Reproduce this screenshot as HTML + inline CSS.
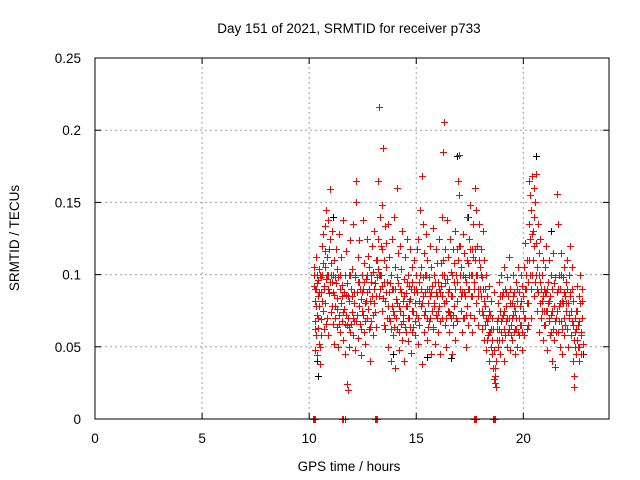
<!DOCTYPE html>
<html><head><meta charset="utf-8"><style>
body{margin:0;background:#fff}
svg{display:block;font-family:"Liberation Sans",sans-serif}
</style></head><body>
<svg id="chart" width="640" height="480" viewBox="0 0 640 480" xmlns="http://www.w3.org/2000/svg">
<rect width="640" height="480" fill="#fff"/>
<text x="349" y="33" font-size="13.5" text-anchor="middle">Day 151 of 2021, SRMTID for receiver p733</text>
<text transform="translate(19,238) rotate(-90)" font-size="13.5" text-anchor="middle">SRMTID / TECUs</text>
<text x="349" y="471" font-size="13.5" text-anchor="middle">GPS time / hours</text>
<g id="grid"></g>
<g id="ticks"></g>
<g id="black"></g>
<g id="red"></g>
<rect x="95" y="58" width="514" height="361" fill="none" stroke="#000" stroke-width="1"/>
</svg>
<script>
const xTicks=[0,5,10,15,20];
const yTicks=[0,0.05,0.1,0.15,0.2,0.25];
const yTickLabels=["0","0.05","0.1","0.15","0.2","0.25"];
const blackData=[[10.4,.03],[10.35,.04],[11.1,.14],[16.9,.182],[20.6,.182],[13.9,.045],[15.5,.043],[16.6,.042],[22.8,.045],[21.3,.13],[17.4,.14],[20.1,.122]];
const redZeros=[[10.2,0],[10.24,0],[10.28,0],[11.55,0],[11.6,0],[11.65,0],[13.08,0],[13.13,0],[13.18,0],[17.7,0],[17.75,0],[17.8,0],[18.6,0],[18.65,0],[18.7,0]];
const redData=[[10.22,.092],[10.24,.105],[10.25,.068],[10.27,.082],[10.28,.048],[10.3,.09],[10.31,.112],[10.33,.058],[10.35,.1],[10.36,.072],[10.38,.044],[10.4,.096],[10.41,.063],[10.43,.085],[10.44,.052],[10.46,.104],[10.48,.078],[10.5,.038],[10.52,.1],[10.53,.069],[10.55,.088],[10.57,.058],[10.6,.12],[10.62,.1],[10.63,.075],[10.65,.128],[10.67,.09],[10.7,.062],[10.72,.105],[10.74,.134],[10.76,.08],[10.78,.097],[10.8,.145],[10.82,.07],[10.84,.112],[10.86,.1],[10.88,.138],[10.9,.058],[10.92,.087],[10.95,.125],[10.98,.159],[11.0,.074],[11.02,.108],[11.05,.095],[11.08,.13],[11.1,.066],[11.12,.088],
[11.15,.11],[11.18,.052],[11.2,.078],[11.22,.098],[11.25,.118],[11.28,.064],[11.3,.084],[11.32,.104],[11.35,.05],[11.38,.072],[11.4,.128],[11.42,.09],[11.45,.06],[11.48,.08],[11.5,.112],[11.52,.068],[11.55,.093],[11.58,.055],[11.6,.138],[11.62,.076],[11.65,.1],[11.68,.045],[11.7,.086],[11.72,.116],[11.75,.065],[11.78,.024],[11.8,.02],[11.82,.07],[11.84,.1],[11.86,.05],[11.88,.082],[11.9,.124],[11.92,.06],[11.95,.09],[11.98,.074],
[12.0,.104],[12.03,.058],[12.05,.135],[12.08,.08],[12.1,.068],[12.12,.1],[12.15,.048],[12.18,.15],[12.2,.165],[12.22,.088],[12.25,.072],[12.28,.112],[12.3,.056],[12.32,.095],[12.35,.124],[12.38,.066],[12.4,.083],[12.42,.044],[12.45,.1],[12.48,.075],[12.5,.138],[12.52,.09],[12.55,.06],[12.58,.108],[12.6,.08],[12.62,.052],[12.65,.097],[12.68,.125],[12.7,.07],[12.72,.088],[12.75,.113],[12.78,.062],[12.8,.105],[12.82,.04],[12.85,.082],[12.88,.095],[12.9,.068],[12.92,.12],[12.95,.085],[12.98,.102],[13.0,.058],[13.02,.09],[13.05,.13],[13.08,.074],[13.1,.11],[13.12,.064],[13.15,.098],
[13.2,.125],[13.22,.165],[13.25,.085],[13.28,.216],[13.3,.14],[13.32,.1],[13.35,.12],[13.38,.075],[13.4,.148],[13.42,.092],[13.45,.188],[13.48,.11],[13.5,.065],[13.52,.134],[13.55,.082],[13.58,.105],[13.6,.122],[13.62,.07],[13.65,.095],[13.68,.135],[13.7,.05],[13.72,.088],[13.75,.112],[13.78,.068],[13.8,.04],[13.82,.1],[13.85,.078],[13.88,.125],[13.9,.058],[13.92,.09],[13.95,.14],[13.98,.072],
[14.0,.105],[14.02,.035],[14.05,.083],[14.08,.16],[14.1,.062],[14.12,.098],[14.15,.115],[14.18,.048],[14.2,.078],[14.22,.12],[14.25,.09],[14.28,.066],[14.3,.104],[14.32,.055],[14.35,.13],[14.38,.082],[14.4,.072],[14.42,.097],[14.45,.04],[14.48,.112],[14.5,.087],[14.52,.06],[14.55,.125],[14.58,.078],[14.6,.1],[14.62,.054],[14.65,.092],[14.68,.07],[14.7,.118],[14.72,.083],[14.75,.046],[14.78,.105],[14.8,.075],[14.82,.095],[14.85,.064],[14.88,.088],[14.9,.11],[14.92,.058],[14.95,.08],[14.98,.1],
[15.0,.072],[15.02,.118],[15.05,.088],[15.08,.052],[15.1,.125],[15.12,.095],[15.15,.065],[15.18,.145],[15.2,.105],[15.22,.078],[15.25,.038],[15.28,.168],[15.3,.135],[15.32,.085],[15.35,.115],[15.38,.06],[15.4,.1],[15.42,.075],[15.45,.128],[15.48,.09],[15.5,.055],[15.52,.11],[15.55,.08],[15.58,.098],[15.6,.068],[15.62,.12],[15.65,.085],[15.68,.045],[15.7,.105],[15.72,.075],[15.75,.092],[15.78,.132],[15.8,.062],[15.82,.1],[15.85,.08],[15.88,.052],[15.9,.118],[15.92,.088],[15.95,.07],[15.98,.108],
[16.0,.06],[16.02,.095],[16.05,.078],[16.08,.125],[16.1,.045],[16.12,.088],[16.15,.108],[16.18,.07],[16.2,.14],[16.22,.085],[16.25,.185],[16.28,.206],[16.3,.1],[16.32,.065],[16.35,.118],[16.38,.082],[16.4,.05],[16.42,.097],[16.45,.138],[16.48,.075],[16.5,.112],[16.52,.06],[16.55,.09],[16.58,.125],[16.6,.07],[16.62,.102],[16.65,.045],[16.68,.085],[16.7,.118],[16.72,.065],[16.75,.095],[16.78,.078],[16.8,.13],[16.82,.055],[16.85,.1],[16.88,.082],[16.9,.118],[16.92,.068],[16.95,.165],[16.98,.183],
[17.0,.155],[17.02,.09],[17.05,.12],[17.08,.075],[17.1,.105],[17.12,.06],[17.15,.088],[17.18,.128],[17.2,.1],[17.22,.07],[17.25,.115],[17.28,.085],[17.3,.05],[17.32,.095],[17.35,.14],[17.38,.078],[17.4,.108],[17.42,.065],[17.45,.125],[17.48,.09],[17.5,.148],[17.52,.072],[17.55,.1],[17.58,.06],[17.6,.118],[17.62,.085],[17.65,.135],[17.68,.095],[17.7,.07],[17.72,.11],[17.75,.16],[17.78,.145],[17.8,.08],[17.82,.12],[17.85,.1],[17.88,.065],[17.9,.09],[17.92,.135],[17.95,.075],[17.98,.105],
[18.0,.118],[18.02,.085],[18.05,.062],[18.08,.098],[18.1,.13],[18.12,.072],[18.15,.11],[18.18,.055],[18.2,.09],[18.22,.078],[18.25,.048],[18.28,.1],[18.3,.068],[18.32,.085],[18.35,.058],[18.38,.04],[18.4,.075],[18.42,.092],[18.45,.06],[18.48,.05],[18.5,.082],[18.52,.045],[18.55,.07],[18.58,.035],[18.6,.062],[18.62,.088],[18.65,.028],[18.67,.025],[18.7,.03],[18.72,.022],[18.75,.055],[18.78,.068],[18.8,.08],[18.82,.05],[18.85,.095],[18.88,.062],[18.9,.075],[18.92,.045],[18.95,.1],[18.98,.068],
[19.0,.085],[19.02,.055],[19.05,.072],[19.08,.105],[19.1,.062],[19.12,.04],[19.15,.09],[19.18,.068],[19.2,.078],[19.22,.05],[19.25,.098],[19.28,.06],[19.3,.085],[19.32,.112],[19.35,.07],[19.38,.048],[19.4,.09],[19.42,.065],[19.45,.08],[19.48,.055],[19.5,.1],[19.52,.072],[19.55,.06],[19.58,.088],[19.6,.045],[19.62,.075],[19.65,.095],[19.68,.062],[19.7,.082],[19.72,.05],[19.75,.105],[19.78,.07],[19.8,.088],[19.82,.058],[19.85,.078],[19.88,.1],[19.9,.065],[19.92,.048],[19.95,.092],[19.98,.075],
[20.0,.085],[20.02,.058],[20.05,.105],[20.08,.07],[20.1,.122],[20.12,.09],[20.15,.062],[20.18,.11],[20.2,.08],[20.22,.095],[20.25,.135],[20.28,.165],[20.3,.155],[20.32,.1],[20.35,.145],[20.38,.07],[20.4,.128],[20.42,.168],[20.45,.11],[20.48,.085],[20.5,.16],[20.52,.14],[20.55,.095],[20.58,.17],[20.6,.122],[20.62,.075],[20.65,.105],[20.68,.135],[20.7,.088],[20.72,.06],[20.75,.115],[20.78,.095],[20.8,.125],[20.82,.07],[20.85,.1],[20.88,.082],[20.9,.11],[20.92,.055],[20.95,.09],[20.98,.075],
[21.0,.105],[21.02,.065],[21.05,.088],[21.08,.12],[21.1,.075],[21.12,.048],[21.15,.095],[21.18,.068],[21.2,.11],[21.22,.082],[21.25,.058],[21.28,.1],[21.3,.072],[21.32,.04],[21.35,.09],[21.38,.062],[21.4,.115],[21.42,.078],[21.45,.055],[21.48,.098],[21.5,.036],[21.52,.07],[21.55,.088],[21.58,.156],[21.6,.135],[21.62,.06],[21.65,.1],[21.68,.078],[21.7,.05],[21.72,.09],[21.75,.115],[21.78,.068],[21.8,.082],[21.82,.045],[21.85,.098],[21.88,.07],[21.9,.105],[21.92,.058],[21.95,.085],[21.98,.075],
[22.0,.095],[22.02,.062],[22.05,.11],[22.08,.08],[22.1,.05],[22.12,.1],[22.15,.072],[22.18,.12],[22.2,.088],[22.22,.058],[22.25,.105],[22.28,.068],[22.3,.04],[22.32,.082],[22.35,.03],[22.38,.022],[22.4,.06],[22.42,.05],[22.45,.075],[22.48,.045],[22.5,.092],[22.52,.055],[22.55,.065],[22.58,.04],[22.6,.085],[22.62,.05],[22.65,.1],[22.68,.058],[22.7,.045],[22.72,.09],[22.75,.07],[22.78,.052]];
const redData2=[[10.23,.1],[10.26,.09],[10.29,.062],[10.32,.078],[10.37,.094],[10.42,.07],[10.47,.088],[10.51,.05],[10.56,.098],[10.61,.082],[10.66,.108],[10.71,.092],[10.75,.116],[10.79,.066],[10.83,.1],[10.87,.09],[10.91,.118],[10.96,.095],[11.01,.1],[11.06,.078],[11.11,.1],[11.16,.086],[11.21,.07],[11.26,.094],[11.31,.076],[11.36,.098],[11.41,.066],[11.46,.1],[11.51,.085],[11.56,.074],[11.61,.088],[11.66,.066],[11.71,.072],[11.76,.094],[11.81,.085],[11.87,.064],[11.91,.1],[11.96,.066],
[12.01,.085],[12.06,.07],[12.11,.088],[12.16,.098],[12.21,.068],[12.26,.095],[12.31,.078],[12.36,.09],[12.41,.062],[12.46,.088],[12.51,.072],[12.56,.095],[12.61,.068],[12.66,.082],[12.71,.1],[12.76,.076],[12.81,.09],[12.86,.064],[12.91,.1],[12.96,.072],[13.01,.08],[13.06,.094],[13.11,.085],[13.16,.11],[13.21,.104],[13.26,.1],[13.31,.09],[13.36,.1],[13.41,.118],[13.46,.084],[13.51,.095],[13.56,.062],[13.61,.088],[13.66,.078],[13.71,.07],[13.76,.094],[13.81,.062],[13.86,.09],[13.91,.075],[13.96,.064],
[14.01,.09],[14.06,.07],[14.11,.08],[14.16,.094],[14.21,.06],[14.26,.075],[14.31,.088],[14.36,.068],[14.41,.085],[14.46,.064],[14.51,.078],[14.56,.095],[14.61,.07],[14.66,.082],[14.71,.064],[14.76,.09],[14.81,.06],[14.86,.075],[14.91,.09],[14.96,.068],[15.01,.09],[15.06,.07],[15.11,.082],[15.16,.1],[15.21,.09],[15.26,.08],[15.31,.098],[15.36,.072],[15.41,.088],[15.46,.1],[15.51,.07],[15.56,.064],[15.61,.09],[15.66,.07],[15.71,.088],[15.76,.064],[15.81,.078],[15.86,.095],[15.91,.072],[15.96,.085],
[16.01,.075],[16.06,.09],[16.11,.068],[16.16,.092],[16.21,.1],[16.26,.11],[16.31,.08],[16.36,.094],[16.41,.07],[16.46,.088],[16.51,.074],[16.56,.072],[16.61,.085],[16.66,.1],[16.71,.072],[16.76,.108],[16.81,.09],[16.86,.07],[16.91,.095],[16.96,.11],[17.01,.12],[17.06,.1],[17.11,.085],[17.16,.07],[17.21,.088],[17.26,.098],[17.31,.072],[17.36,.11],[17.41,.09],[17.46,.1],[17.51,.118],[17.56,.085],[17.61,.1],[17.66,.112],[17.71,.09],[17.76,.118],[17.81,.1],[17.86,.085],[17.91,.11],[17.96,.09],
[18.01,.1],[18.06,.075],[18.11,.09],[18.16,.082],[18.21,.065],[18.26,.07],[18.31,.055],[18.36,.07],[18.41,.06],[18.46,.072],[18.51,.062],[18.56,.055],[18.61,.048],[18.66,.035],[18.71,.04],[18.76,.062],[18.81,.07],[18.86,.055],[18.91,.085],[18.96,.06],[19.01,.07],[19.06,.088],[19.11,.075],[19.16,.058],[19.21,.088],[19.26,.07],[19.31,.062],[19.36,.08],[19.41,.058],[19.46,.07],[19.51,.085],[19.56,.078],[19.61,.062],[19.66,.07],[19.71,.09],[19.76,.06],[19.81,.07],[19.86,.065],[19.91,.082],[19.96,.06],
[20.01,.07],[20.06,.09],[20.11,.1],[20.16,.08],[20.21,.065],[20.26,.11],[20.31,.125],[20.36,.09],[20.41,.1],[20.46,.13],[20.51,.12],[20.56,.15],[20.61,.1],[20.66,.09],[20.71,.1],[20.76,.08],[20.81,.09],[20.86,.075],[20.91,.085],[20.96,.065],[21.01,.088],[21.06,.075],[21.11,.09],[21.16,.08],[21.21,.07],[21.26,.085],[21.31,.06],[21.36,.075],[21.41,.094],[21.46,.068],[21.51,.06],[21.56,.075],[21.61,.09],[21.66,.068],[21.71,.08],[21.76,.1],[21.81,.062],[21.86,.08],[21.91,.088],[21.96,.065],
[22.01,.08],[22.06,.09],[22.11,.07],[22.16,.085],[22.21,.075],[22.26,.09],[22.31,.065],[22.36,.055],[22.41,.07],[22.46,.062],[22.51,.075],[22.56,.05],[22.61,.068],[22.66,.08],[22.71,.06],[22.76,.082]];

const X0=95,X1=609,Y0=419,Y1=58,XMAX=24,YMAX=0.25;
function sx(t){return X0+(X1-X0)*t/XMAX;}
function sy(v){return Y0-(Y0-Y1)*v/YMAX;}
const NS="http://www.w3.org/2000/svg";
function mk(tag,attrs,parent){const e=document.createElementNS(NS,tag);for(const k in attrs)e.setAttribute(k,attrs[k]);parent.appendChild(e);return e;}
const grid=document.getElementById('grid'),ticks=document.getElementById('ticks');
xTicks.forEach(function(t){
  const x=sx(t);
  if(t>0){const g=mk('line',{x1:x,y1:Y0,x2:x,y2:Y1,stroke:'#a0a0a0','stroke-dasharray':'2,3'},grid);
  
  }
  mk('line',{x1:x,y1:Y0,x2:x,y2:Y0-6,stroke:'#000'},ticks);
  mk('line',{x1:x,y1:Y1,x2:x,y2:Y1+6,stroke:'#000'},ticks);
  const l=mk('text',{x:x,y:443,'font-size':'13.5','text-anchor':'middle'},ticks);
  l.textContent=String(t);
  
  
});
yTicks.forEach(function(v,i){
  const y=sy(v);
  if(i>0&&i<yTicks.length-1){const g=mk('line',{x1:X0,y1:y,x2:X1,y2:y,stroke:'#a0a0a0','stroke-dasharray':'2,3'},grid);
  
  }
  mk('line',{x1:X0,y1:y,x2:X0+6,y2:y,stroke:'#000'},ticks);
  mk('line',{x1:X1,y1:y,x2:X1-6,y2:y,stroke:'#000'},ticks);
  const l=mk('text',{x:81,y:y+5,'font-size':'13.5','text-anchor':'end'},ticks);
  l.textContent=yTickLabels[i];
  
  
});
function drawSeries(data,g,color){
  let d='';
  data.forEach(function(p){const x=Math.round(sx(p[0]))+0.5,y=Math.round(sy(p[1]))+0.5;d+='M'+(x-3.5)+' '+y+'h7M'+x+' '+(y-3.5)+'v7';});
  const path=mk('path',{d:d,stroke:color,'stroke-width':'1',fill:'none'},g);
  
  
}
drawSeries(blackData,document.getElementById('black'),'#000');
drawSeries(redData.concat(redData2,redZeros),document.getElementById('red'),'#f00');
</script>
</body></html>
